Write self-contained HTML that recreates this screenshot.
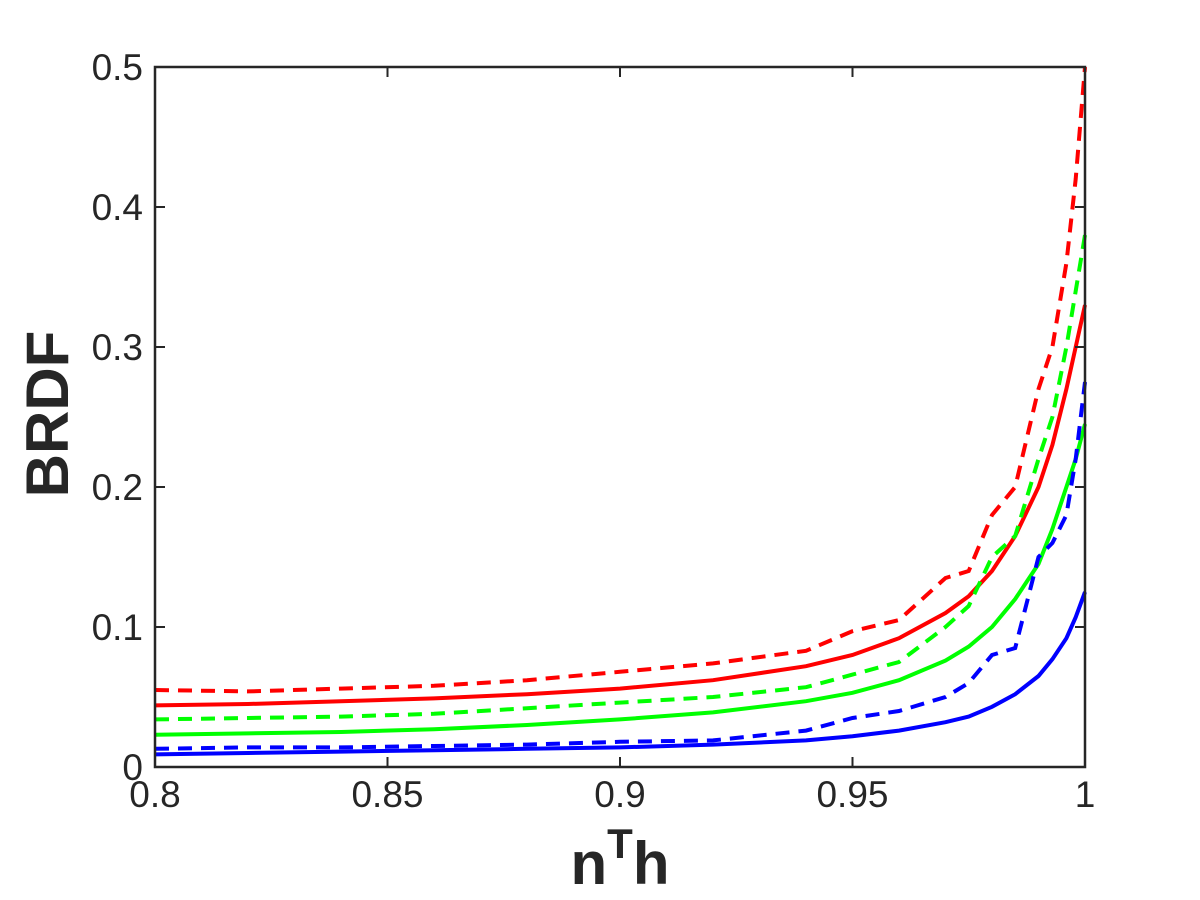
<!DOCTYPE html>
<html><head><meta charset="utf-8"><style>
body{margin:0;background:#fff;width:1200px;height:900px;overflow:hidden}
svg{display:block}
text{font-family:"Liberation Sans",Arial,sans-serif;fill:#262626}
</style></head><body>
<svg id="chart" width="1200" height="900">
<g id="plot"></g>
<g id="axes"></g>
<text x="620" y="884" text-anchor="middle" font-size="60" font-weight="bold">n<tspan dy="-26" font-size="42">T</tspan><tspan dy="26">h</tspan></text>
<text transform="translate(68,414) rotate(-90)" text-anchor="middle" font-size="60" font-weight="bold">BRDF</text>
</svg>
<script>
const xs=[0.8,0.82,0.84,0.86,0.88,0.9,0.92,0.94,0.95,0.96,0.97,0.975,0.98,0.985,0.99,0.993,0.996,0.998,1];
const redSolid=[.044,.045,.047,.049,.052,.056,.062,.072,.080,.092,.110,.122,.140,.165,.200,.230,.270,.300,.330];
const greenSolid=[.023,.024,.025,.027,.030,.034,.039,.047,.053,.062,.076,.086,.100,.120,.145,.170,.200,.220,.245];
const blueSolid=[.009,.010,.011,.012,.013,.014,.016,.019,.022,.026,.032,.036,.043,.052,.065,.077,.092,.107,.125];
const redDashed=[.055,.054,.056,.058,.062,.068,.074,.083,.097,.105,.135,.14,.18,.20,.27,.30,.36,.42,.50];
const greenDashed=[.034,.035,.036,.038,.042,.046,.050,.057,.066,.075,.100,.115,.150,.165,.22,.25,.30,.34,.38];
const blueDashed=[.013,.014,.014,.015,.016,.018,.019,.026,.035,.040,.050,.060,.080,.085,.15,.16,.18,.22,.275];
const xTicks=[0.8,0.85,0.9,0.95,1];
const xTickLabels=["0.8","0.85","0.9","0.95","1"];
const yTicks=[0,0.1,0.2,0.3,0.4,0.5];
const yTickLabels=["0","0.1","0.2","0.3","0.4","0.5"];
const L=155,R=1085,T=67,B=767;
const X=v=>L+(v-0.8)/0.2*(R-L);
const Y=v=>B-(v/0.5)*(B-T);
const NS="http://www.w3.org/2000/svg";
const plot=document.getElementById('plot'),axes=document.getElementById('axes');
function line(vals,color,dashed,name){
  const p=document.createElementNS(NS,'path');
  p.setAttribute('d',vals.map((v,i)=>(i?'L':'M')+X(xs[i]).toFixed(1)+','+Y(v).toFixed(1)).join(''));
  p.setAttribute('fill','none');p.setAttribute('stroke',color);p.setAttribute('stroke-width','4');
  if(dashed)p.setAttribute('stroke-dasharray','14,9');
  
  
  plot.appendChild(p);
}
line(redSolid,'#ff0000',false,'red-solid-line');
line(greenSolid,'#00ff00',false,'green-solid-line');
line(blueSolid,'#0000ff',false,'blue-solid-line');
line(redDashed,'#ff0000',true,'red-dashed-line');
line(greenDashed,'#00ff00',true,'green-dashed-line');
line(blueDashed,'#0000ff',true,'blue-dashed-line');
const box=document.createElementNS(NS,'rect');
box.setAttribute('x',L);box.setAttribute('y',T);box.setAttribute('width',R-L);box.setAttribute('height',B-T);
box.setAttribute('fill','none');box.setAttribute('stroke','#262626');box.setAttribute('stroke-width','2.5');


axes.appendChild(box);
function seg(x1,y1,x2,y2){const l=document.createElementNS(NS,'line');l.setAttribute('x1',x1);l.setAttribute('y1',y1);l.setAttribute('x2',x2);l.setAttribute('y2',y2);l.setAttribute('stroke','#262626');l.setAttribute('stroke-width','2');


axes.appendChild(l);}
xTicks.forEach((v,i)=>{const x=X(v);seg(x,B,x,B-10);seg(x,T,x,T+10);
  const t=document.createElementNS(NS,'text');t.setAttribute('x',x);t.setAttribute('y',B+40);t.setAttribute('text-anchor','middle');t.setAttribute('font-size','37');t.textContent=xTickLabels[i];
  
  
  axes.appendChild(t);});
yTicks.forEach((v,i)=>{const y=Y(v);seg(L,y,L+10,y);seg(R,y,R-10,y);
  const t=document.createElementNS(NS,'text');t.setAttribute('x',L-12);t.setAttribute('y',y+13);t.setAttribute('text-anchor','end');t.setAttribute('font-size','37');t.textContent=yTickLabels[i];
  
  
  axes.appendChild(t);});
</script>
</body></html>
